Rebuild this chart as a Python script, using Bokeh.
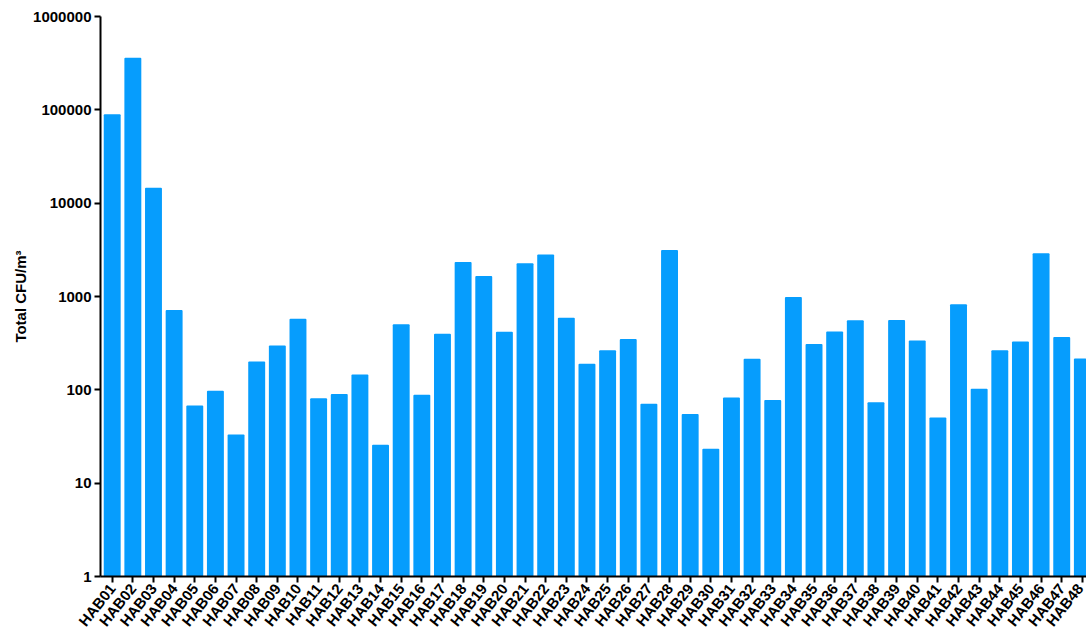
import math
from bokeh.plotting import figure
from bokeh.models import Range1d, FixedTicker, NumeralTickFormatter, ColumnDataSource
from bokeh.embed import file_html
from bokeh.resources import INLINE

categories = ["HAB%02d" % i for i in range(1, 49)]
values = [
    89500, 361000, 14600, 717, 68, 98, 33.3, 201, 298, 579,
    81.5, 90, 146, 25.8, 504, 88.5, 400, 2340, 1660, 420,
    2265, 2826, 593, 190, 266, 351, 70.8, 3143, 55, 23.4,
    82.8, 215, 78, 988, 310, 421, 556, 73.8, 561, 337,
    50.6, 825, 102.5, 266, 329, 2898, 369, 216,
]
positions = list(range(1, len(categories) + 1))
y_ticks = [1, 10, 100, 1000, 10000, 100000, 1000000]

BLUE = "#069DFD"
FONT = "Liberation Sans"

src = ColumnDataSource(dict(x=positions, top=values, name=categories))

p = figure(width=1086, height=637, output_backend="svg", toolbar_location=None,
           y_axis_type="log", x_range=Range1d(0.433, 48.2), y_range=Range1d(1, 1000000),
           min_border_left=100, min_border_right=0, min_border_top=16, min_border_bottom=60)
p.outline_line_color = None
p.xgrid.visible = False
p.ygrid.visible = False
p.background_fill_color = "white"
p.border_fill_color = "white"

p.vbar(x="x", top="top", bottom=1, width=0.82, source=src,
       fill_color=BLUE, line_color=None, border_radius=1)

# x axis
xa = p.xaxis[0]
xa.ticker = FixedTicker(ticks=positions, minor_ticks=[])
xa.major_label_overrides = {pos: name for pos, name in zip(positions, categories)}
xa.major_label_orientation = 0.9
xa.major_label_text_font = FONT
xa.major_label_text_font_style = "bold"
xa.major_label_text_font_size = "15px"
xa.major_label_text_color = "black"
xa.major_label_standoff = 3
xa.axis_line_width = 2
xa.axis_line_color = "black"
xa.major_tick_line_width = 2
xa.major_tick_line_color = "black"
xa.major_tick_out = 6
xa.major_tick_in = 0
xa.minor_tick_line_color = None

# y axis
ya = p.yaxis[0]
ya.ticker = FixedTicker(ticks=y_ticks, minor_ticks=[])
ya.formatter = NumeralTickFormatter(format="0")
ya.major_label_text_font = FONT
ya.major_label_text_font_style = "bold"
ya.major_label_text_font_size = "15px"
ya.major_label_text_color = "black"
ya.major_label_standoff = 3
ya.axis_line_width = 2
ya.axis_line_color = "black"
ya.major_tick_line_width = 2
ya.major_tick_line_color = "black"
ya.major_tick_out = 6
ya.major_tick_in = 0
ya.minor_tick_line_color = None
ya.axis_label = "Total CFU/m\u00b3"
ya.axis_label_text_font = FONT
ya.axis_label_text_font_style = "bold"
ya.axis_label_text_font_size = "15px"
ya.axis_label_text_color = "black"
ya.axis_label_standoff = 1

open("out.html", "w").write(file_html(p, INLINE))
